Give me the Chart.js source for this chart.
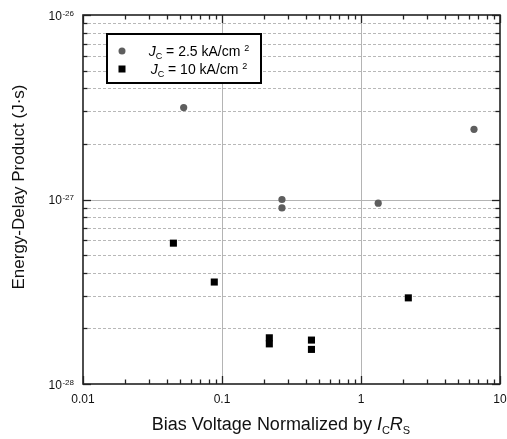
<!DOCTYPE html>
<html><head><meta charset="utf-8">
<script src="https://cdn.jsdelivr.net/npm/chart.js@4.4.1/dist/chart.umd.min.js"></script>
<style>html,body{margin:0;padding:0;background:#fff;}#wrap{width:507px;height:439px;}</style>
</head><body><div id="wrap"><canvas id="c" width="507" height="439"></canvas></div>
<script>
// ---- data ----
const seriesNames = ['Jc = 2.5 kA/cm2', 'Jc = 10 kA/cm2'];
const legendValues = ['2.5', '10'];
const jc25X = [0.053, 0.27, 0.27, 1.33, 6.5];
const jc25Y = [3.15e-27, 1.0e-27, 0.9e-27, 0.955e-27, 2.4e-27];
const jc10X = [0.0447, 0.088, 0.219, 0.219, 0.44, 0.44, 2.19];
const jc10Y = [5.8e-28, 3.57e-28, 1.78e-28, 1.65e-28, 1.73e-28, 1.54e-28, 2.93e-28];
const xTickValues = [0.01, 0.1, 1, 10];
const xTickLabels = ['0.01', '0.1', '1', '10'];
const yTickValues = [1e-28, 1e-27, 1e-26];
const yTickExponents = ['-28', '-27', '-26'];
const yTitle = 'Energy-Delay Product (J\u00b7s)';
const xTitleMain = 'Bias Voltage Normalized by ';

const FONT = '"Liberation Sans", Arial, Helvetica, sans-serif';
function minors(decades){const r=[];for(const d of decades){for(let m=2;m<=9;m++)r.push(d*m);}return r;}
const xMinor = minors([0.01,0.1,1]);
const yMinor = minors([1e-28,1e-27]);

const axesPlugin = {
  id:'axesPlugin',
  beforeDatasetsDraw(chart){
    const {ctx, chartArea:a, scales:{x,y}} = chart;
    ctx.save();
    ctx.lineWidth = 1;
    ctx.strokeStyle = '#b8b8b8';
    ctx.setLineDash([3,2]);
    for(const v of yMinor){
      const py = Math.round(y.getPixelForValue(v))+0.5;
      ctx.beginPath(); ctx.moveTo(a.left,py); ctx.lineTo(a.right,py); ctx.stroke();
    }
    ctx.setLineDash([]);
    ctx.strokeStyle = '#b4b4b4';
    for(const v of yTickValues.slice(1,-1)){
      const py = Math.round(y.getPixelForValue(v))+0.5;
      ctx.beginPath(); ctx.moveTo(a.left,py); ctx.lineTo(a.right,py); ctx.stroke();
    }
    for(const v of xTickValues.slice(1,-1)){
      const px = Math.round(x.getPixelForValue(v))+0.5;
      ctx.beginPath(); ctx.moveTo(px,a.top); ctx.lineTo(px,a.bottom); ctx.stroke();
    }
    ctx.strokeStyle = '#222';
    ctx.lineWidth = 1.3;
    const tick = (x1,y1,x2,y2)=>{ctx.beginPath();ctx.moveTo(x1,y1);ctx.lineTo(x2,y2);ctx.stroke();};
    for(const v of xMinor){
      const px = Math.round(x.getPixelForValue(v))+0.5;
      tick(px,a.bottom,px,a.bottom-4.5); tick(px,a.top,px,a.top+4.5);
    }
    for(const v of xTickValues){
      const px = Math.round(x.getPixelForValue(v))+0.5;
      tick(px,a.bottom,px,a.bottom-8); tick(px,a.top,px,a.top+8);
    }
    for(const v of yMinor){
      const py = Math.round(y.getPixelForValue(v))+0.5;
      tick(a.left,py,a.left+4.5,py); tick(a.right,py,a.right-4.5,py);
    }
    for(const v of yTickValues){
      const py = Math.round(y.getPixelForValue(v))+0.5;
      tick(a.left,py,a.left+8,py); tick(a.right,py,a.right-8,py);
    }
    ctx.lineWidth = 1.6;
    ctx.strokeStyle = '#222';
    ctx.strokeRect(a.left, a.top, a.right-a.left, a.bottom-a.top);

    ctx.fillStyle = '#111';
    ctx.font = '12px '+FONT;
    ctx.textAlign = 'center';
    ctx.textBaseline = 'alphabetic';
    xTickValues.forEach((v,i)=>{
      ctx.fillText(xTickLabels[i], x.getPixelForValue(v), a.bottom+19);
    });
    yTickValues.forEach((v,i)=>{
      const py = y.getPixelForValue(v);
      ctx.font = '8px '+FONT;
      const sw = ctx.measureText(yTickExponents[i]).width;
      ctx.textAlign = 'right';
      ctx.fillText(yTickExponents[i], 74, py+0.5);
      ctx.font = '12px '+FONT;
      ctx.fillText('10', 74-sw-0.5, py+4.5);
    });
    ctx.save();
    ctx.translate(24, 187);
    ctx.rotate(-Math.PI/2);
    ctx.font = '17px '+FONT;
    ctx.textAlign = 'center';
    ctx.fillText(yTitle, 0, 0);
    ctx.restore();
    const parts = [
      {t:xTitleMain, f:'18px '+FONT, dy:0},
      {t:'I', f:'italic 18px '+FONT, dy:0},
      {t:'C', f:'11px '+FONT, dy:4},
      {t:'R', f:'italic 18px '+FONT, dy:0},
      {t:'S', f:'11px '+FONT, dy:4}
    ];
    let total=0;
    parts.forEach(p=>{ctx.font=p.f;p.w=ctx.measureText(p.t).width;total+=p.w;});
    let cx = 281 - total/2;
    ctx.textAlign='left';
    parts.forEach(p=>{ctx.font=p.f;ctx.fillText(p.t,cx,430+p.dy);cx+=p.w;});
    ctx.restore();
  },
  afterDatasetsDraw(chart){
    const {ctx} = chart;
    ctx.save();
    ctx.fillStyle='#fff';
    ctx.fillRect(107,34,154,49);
    ctx.lineWidth=2;
    ctx.strokeStyle='#000';
    ctx.strokeRect(107,34,154,49);
    const ds = chart.data.datasets;
    const rows = [51, 69];
    ds.forEach((d,i)=>{
      const cy = rows[i];
      ctx.fillStyle = d.backgroundColor;
      if(d.pointStyle==='rect'){ctx.fillRect(118.5,cy-3.5,7,7);}
      else{ctx.beginPath();ctx.arc(122,cy,3.5,0,Math.PI*2);ctx.fill();}
      ctx.fillStyle='#000';
      const parts = [
        {t:'J', f:'italic 14px '+FONT, dy:0},
        {t:'C', f:'9px '+FONT, dy:3},
        {t:' = '+legendValues[i]+' kA/cm ', f:'14px '+FONT, dy:0},
        {t:'2', f:'9px '+FONT, dy:-5}
      ];
      let total=0;
      parts.forEach(p=>{ctx.font=p.f;p.w=ctx.measureText(p.t).width;total+=p.w;});
      let cx = 199 - total/2;
      ctx.textAlign='left';
      ctx.textBaseline='alphabetic';
      parts.forEach(p=>{ctx.font=p.f;ctx.fillText(p.t,cx,cy+5+p.dy);cx+=p.w;});
    });
    ctx.restore();
  }
};

new Chart(document.getElementById('c'), {
  type:'scatter',
  data:{datasets:[
    {label:seriesNames[0], data:jc25X.map((v,i)=>({x:v,y:jc25Y[i]})), backgroundColor:'#5e5e5e', borderWidth:0, pointStyle:'circle', pointRadius:3.6, pointHoverRadius:3.6},
    {label:seriesNames[1], data:jc10X.map((v,i)=>({x:v,y:jc10Y[i]})), backgroundColor:'#000000', borderWidth:0, pointStyle:'rect', pointRadius:5, pointHoverRadius:5}
  ]},
  options:{
    responsive:false, animation:false, events:[],
    layout:{padding:{left:83,right:7,top:15,bottom:55}},
    plugins:{legend:{display:false}, tooltip:{enabled:false}},
    scales:{
      x:{type:'logarithmic', min:0.01, max:10, display:false},
      y:{type:'logarithmic', min:1e-28, max:1e-26, display:false}
    }
  },
  plugins:[axesPlugin]
});
</script></body></html>
